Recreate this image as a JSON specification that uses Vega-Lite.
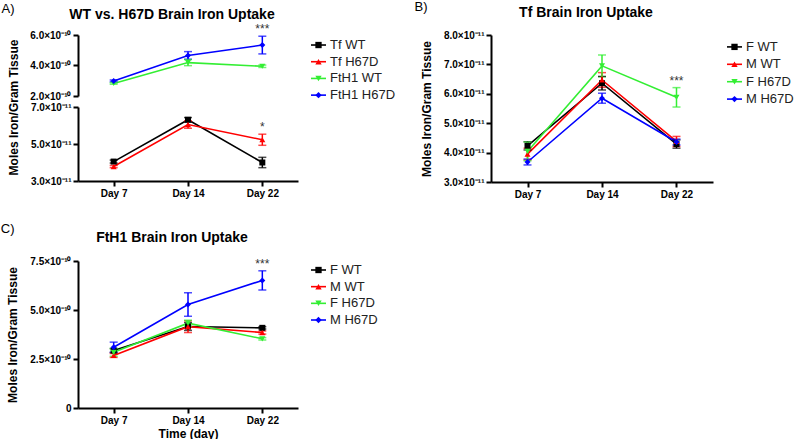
{
  "$schema": "https://vega.github.io/schema/vega-lite/v6.json",
  "padding": {"top": 1, "left": 0, "right": 0, "bottom": 0},
  "background": "white",
  "config": {
    "font": "Liberation Sans",
    "view": {"stroke": null},
    "axis": {"grid": false, "domainColor": "#000", "domainWidth": 2, "tickColor": "#000", "tickWidth": 2, "tickSize": 5, "labelFont": "Liberation Sans", "labelFontSize": 10, "labelFontWeight": "bold", "labelColor": "#000", "labelPadding": 2, "titleFont": "Liberation Sans", "titleFontSize": 12, "titleFontWeight": "bold", "titleColor": "#000"},
    "axisX": {"labelAngle": 0},
    "legend": {"disable": true},
    "title": {"font": "Liberation Sans", "fontSize": 14, "fontWeight": "bold", "color": "#000"},
    "line": {"strokeWidth": 1.6},
    "point": {"filled": true, "size": 36, "opacity": 1}
  },
  "datasets": {
    "A_top": [
      {"series": "FtH1 WT", "day": "Day 7", "value": 2.82e-10, "err": 5e-12},
      {"series": "FtH1 WT", "day": "Day 14", "value": 4.19e-10, "err": 2e-11},
      {"series": "FtH1 WT", "day": "Day 22", "value": 3.95e-10, "err": 8e-12},
      {"series": "FtH1 H67D", "day": "Day 7", "value": 2.99e-10, "err": 6e-12},
      {"series": "FtH1 H67D", "day": "Day 14", "value": 4.66e-10, "err": 2.5e-11},
      {"series": "FtH1 H67D", "day": "Day 22", "value": 5.34e-10, "err": 5.8e-11}
    ],
    "A_top_sig": [{"day": "Day 22", "value": 5.92e-10, "label": "***"}],
    "A_bot": [
      {"series": "Tf WT", "day": "Day 7", "value": 4.05e-11, "err": 8e-13},
      {"series": "Tf WT", "day": "Day 14", "value": 6.31e-11, "err": 1.2e-12},
      {"series": "Tf WT", "day": "Day 22", "value": 4.0e-11, "err": 2.8e-12},
      {"series": "Tf H67D", "day": "Day 7", "value": 3.78e-11, "err": 6e-13},
      {"series": "Tf H67D", "day": "Day 14", "value": 6.05e-11, "err": 2e-12},
      {"series": "Tf H67D", "day": "Day 22", "value": 5.23e-11, "err": 3e-12}
    ],
    "A_bot_sig": [{"day": "Day 22", "value": 5.53e-11, "label": "*"}],
    "A_leg": [{"series": "Tf WT"}, {"series": "Tf H67D"}, {"series": "FtH1 WT"}, {"series": "FtH1 H67D"}],
    "BC_leg": [{"series": "F WT"}, {"series": "M WT"}, {"series": "F H67D"}, {"series": "M H67D"}],
    "B": [
      {"series": "F WT", "day": "Day 7", "value": 4.23e-11, "err": 1.4e-12},
      {"series": "F WT", "day": "Day 14", "value": 6.36e-11, "err": 2.3e-12},
      {"series": "F WT", "day": "Day 22", "value": 4.29e-11, "err": 1.4e-12},
      {"series": "M WT", "day": "Day 7", "value": 3.95e-11, "err": 2e-12},
      {"series": "M WT", "day": "Day 14", "value": 6.47e-11, "err": 2.5e-12},
      {"series": "M WT", "day": "Day 22", "value": 4.38e-11, "err": 1.7e-12},
      {"series": "F H67D", "day": "Day 7", "value": 4.04e-11, "err": 3.2e-12},
      {"series": "F H67D", "day": "Day 14", "value": 6.95e-11, "err": 3.7e-12},
      {"series": "F H67D", "day": "Day 22", "value": 5.88e-11, "err": 3.3e-12},
      {"series": "M H67D", "day": "Day 7", "value": 3.68e-11, "err": 1e-12},
      {"series": "M H67D", "day": "Day 14", "value": 5.85e-11, "err": 1.7e-12},
      {"series": "M H67D", "day": "Day 22", "value": 4.36e-11, "err": 1e-12}
    ],
    "B_sig": [{"day": "Day 22", "value": 6.21e-11, "label": "***"}],
    "C": [
      {"series": "F WT", "day": "Day 7", "value": 2.93e-10, "err": 1e-11},
      {"series": "F WT", "day": "Day 14", "value": 4.16e-10, "err": 2e-11},
      {"series": "F WT", "day": "Day 22", "value": 4.09e-10, "err": 6e-12},
      {"series": "M WT", "day": "Day 7", "value": 2.68e-10, "err": 1e-11},
      {"series": "M WT", "day": "Day 14", "value": 4.15e-10, "err": 3e-11},
      {"series": "M WT", "day": "Day 22", "value": 3.85e-10, "err": 8e-12},
      {"series": "F H67D", "day": "Day 7", "value": 2.84e-10, "err": 2e-11},
      {"series": "F H67D", "day": "Day 14", "value": 4.33e-10, "err": 1.5e-11},
      {"series": "F H67D", "day": "Day 22", "value": 3.53e-10, "err": 6e-12},
      {"series": "M H67D", "day": "Day 7", "value": 3.10e-10, "err": 2.6e-11},
      {"series": "M H67D", "day": "Day 14", "value": 5.28e-10, "err": 6e-11},
      {"series": "M H67D", "day": "Day 22", "value": 6.51e-10, "err": 4.9e-11}
    ],
    "C_sig": [{"day": "Day 22", "value": 7.0e-10, "label": "***"}]
  },
  "resolve": {"scale": {"color": "independent", "shape": "independent"}},
  "spacing": 24,
  "vconcat": [
    {
      "resolve": {"scale": {"color": "independent", "shape": "independent"}},
      "spacing": 18,
      "hconcat": [
        {
          "title": {"text": "A)", "anchor": "start", "frame": "bounds", "fontSize": 13, "fontWeight": "normal", "offset": -8, "dx": -6},
          "columns": 2,
          "bounds": "flush",
          "align": "each",
          "spacing": {"row": 11, "column": 13},
          "concat": [
            {
              "data": {"name": "A_top"},
              "width": 220, "height": 61,
              "title": {"text": "WT vs. H67D Brain Iron Uptake", "anchor": "middle", "frame": "group", "dx": -16, "offset": 1},
              "encoding": {
                "x": {"field": "day", "type": "ordinal", "sort": ["Day 7", "Day 14", "Day 22"], "scale": {"type": "point", "padding": 0.48}, "axis": null},
                "y": {"field": "value", "type": "quantitative", "scale": {"domain": [2e-10, 6e-10], "nice": false, "zero": false}, "axis": {"values": [2e-10, 4e-10, 6e-10], "labelExpr": "format(datum.value*1e10,'.1f')+'×10⁻¹⁰'", "title": null}},
                "color": {"field": "series", "type": "nominal", "scale": {"domain": ["Tf WT", "Tf H67D", "FtH1 WT", "FtH1 H67D"], "range": ["#000000", "#ff0000", "#33ee33", "#0000ff"]}}
              },
              "layer": [
                {"mark": "line"},
                {"mark": {"type": "errorbar", "ticks": true, "size": 8, "thickness": 1.5}, "encoding": {"yError": {"field": "err"}}},
                {"mark": "point", "encoding": {"shape": {"field": "series", "type": "nominal", "scale": {"domain": ["Tf WT", "Tf H67D", "FtH1 WT", "FtH1 H67D"], "range": ["square", "triangle-up", "triangle-down", "diamond"]}}}},
                {"data": {"name": "A_top_sig"}, "mark": {"type": "text", "baseline": "bottom", "fontSize": 12}, "encoding": {"text": {"field": "label"}, "color": {"value": "#333"}}}
              ]
            },
            {
              "data": {"name": "A_leg"},
              "width": 15, "height": 61,
              "encoding": {
                "y": {"field": "series", "type": "nominal", "sort": null, "scale": {"type": "point", "domain": ["Tf WT", "Tf H67D", "FtH1 WT", "FtH1 H67D"], "padding": 0.326, "align": 0.92}, "axis": null},
                "color": {"field": "series", "type": "nominal", "scale": {"domain": ["Tf WT", "Tf H67D", "FtH1 WT", "FtH1 H67D"], "range": ["#000000", "#ff0000", "#33ee33", "#0000ff"]}}
              },
              "layer": [
                {"mark": {"type": "rule", "strokeWidth": 1.6}, "encoding": {"x": {"datum": 0, "type": "quantitative", "scale": {"domain": [0, 1], "nice": false, "zero": false}, "axis": null}, "x2": {"datum": 1}}},
                {"mark": {"type": "point", "filled": true, "size": 40}, "encoding": {"x": {"datum": 0.5, "type": "quantitative"}, "shape": {"field": "series", "type": "nominal", "scale": {"domain": ["Tf WT", "Tf H67D", "FtH1 WT", "FtH1 H67D"], "range": ["square", "triangle-up", "triangle-down", "diamond"]}}}},
                {"mark": {"type": "text", "align": "left", "baseline": "middle", "dx": 4, "fontSize": 13}, "encoding": {"x": {"datum": 1, "type": "quantitative"}, "text": {"field": "series"}, "color": {"value": "#222"}}}
              ]
            },
            {
              "data": {"name": "A_bot"},
              "width": 220, "height": 74,
              "encoding": {
                "x": {"field": "day", "type": "ordinal", "sort": ["Day 7", "Day 14", "Day 22"], "scale": {"type": "point", "padding": 0.48}, "axis": {"title": null}},
                "y": {"field": "value", "type": "quantitative", "scale": {"domain": [3e-11, 7e-11], "nice": false, "zero": false}, "axis": {"values": [3e-11, 5e-11, 7e-11], "labelExpr": "format(datum.value*1e11,'.1f')+'×10⁻¹¹'", "title": "Moles Iron/Gram Tissue", "titleAnchor": "end", "titleAlign": "center", "titlePadding": 10}},
                "color": {"field": "series", "type": "nominal", "scale": {"domain": ["Tf WT", "Tf H67D", "FtH1 WT", "FtH1 H67D"], "range": ["#000000", "#ff0000", "#33ee33", "#0000ff"]}}
              },
              "layer": [
                {"mark": "line"},
                {"mark": {"type": "errorbar", "ticks": true, "size": 8, "thickness": 1.5}, "encoding": {"yError": {"field": "err"}}},
                {"mark": "point", "encoding": {"shape": {"field": "series", "type": "nominal", "scale": {"domain": ["Tf WT", "Tf H67D", "FtH1 WT", "FtH1 H67D"], "range": ["square", "triangle-up", "triangle-down", "diamond"]}}}},
                {"data": {"name": "A_bot_sig"}, "mark": {"type": "text", "baseline": "bottom", "fontSize": 12}, "encoding": {"text": {"field": "label"}, "color": {"value": "#333"}}}
              ]
            }
          ]
        },
        {
          "title": {"text": "B)", "anchor": "start", "frame": "bounds", "fontSize": 13, "fontWeight": "normal", "offset": -8, "dx": -6},
          "bounds": "flush",
          "spacing": 14,
          "hconcat": [
            {
              "data": {"name": "B"},
              "width": 222, "height": 147,
              "title": {"text": "Tf Brain Iron Uptake", "anchor": "middle", "frame": "group", "dx": -16, "offset": 10},
              "encoding": {
                "x": {"field": "day", "type": "ordinal", "sort": ["Day 7", "Day 14", "Day 22"], "scale": {"type": "point", "padding": 0.49}, "axis": {"title": null}},
                "y": {"field": "value", "type": "quantitative", "scale": {"domain": [3e-11, 8e-11], "nice": false, "zero": false}, "axis": {"values": [3e-11, 4e-11, 5e-11, 6e-11, 7e-11, 8e-11], "labelExpr": "format(datum.value*1e11,'.1f')+'×10⁻¹¹'", "title": "Moles Iron/Gram Tissue", "titlePadding": 10}},
                "color": {"field": "series", "type": "nominal", "scale": {"domain": ["F WT", "M WT", "F H67D", "M H67D"], "range": ["#000000", "#ff0000", "#33ee33", "#0000ff"]}}
              },
              "layer": [
                {"mark": "line"},
                {"mark": {"type": "errorbar", "ticks": true, "size": 8, "thickness": 1.5}, "encoding": {"yError": {"field": "err"}}},
                {"mark": "point", "encoding": {"shape": {"field": "series", "type": "nominal", "scale": {"domain": ["F WT", "M WT", "F H67D", "M H67D"], "range": ["square", "triangle-up", "triangle-down", "diamond"]}}}},
                {"data": {"name": "B_sig"}, "mark": {"type": "text", "baseline": "bottom", "fontSize": 12}, "encoding": {"text": {"field": "label"}, "color": {"value": "#333"}}}
              ]
            },
            {
              "data": {"name": "BC_leg"},
              "width": 15, "height": 76,
              "encoding": {
                "y": {"field": "series", "type": "nominal", "sort": null, "scale": {"type": "point", "domain": ["F WT", "M WT", "F H67D", "M H67D"], "padding": 0.684}, "axis": null},
                "color": {"field": "series", "type": "nominal", "scale": {"domain": ["F WT", "M WT", "F H67D", "M H67D"], "range": ["#000000", "#ff0000", "#33ee33", "#0000ff"]}}
              },
              "layer": [
                {"mark": {"type": "rule", "strokeWidth": 1.6}, "encoding": {"x": {"datum": 0, "type": "quantitative", "scale": {"domain": [0, 1], "nice": false, "zero": false}, "axis": null}, "x2": {"datum": 1}}},
                {"mark": {"type": "point", "filled": true, "size": 40}, "encoding": {"x": {"datum": 0.5, "type": "quantitative"}, "shape": {"field": "series", "type": "nominal", "scale": {"domain": ["F WT", "M WT", "F H67D", "M H67D"], "range": ["square", "triangle-up", "triangle-down", "diamond"]}}}},
                {"mark": {"type": "text", "align": "left", "baseline": "middle", "dx": 4, "fontSize": 13}, "encoding": {"x": {"datum": 1, "type": "quantitative"}, "text": {"field": "series"}, "color": {"value": "#222"}}}
              ]
            }
          ]
        }
      ]
    },
    {
      "title": {"text": "C)", "anchor": "start", "frame": "bounds", "fontSize": 13, "fontWeight": "normal", "offset": -5, "dx": -6},
      "bounds": "flush",
      "spacing": 13,
      "hconcat": [
        {
          "data": {"name": "C"},
          "width": 220, "height": 147,
          "title": {"text": "FtH1 Brain Iron Uptake", "anchor": "middle", "frame": "group", "dx": -16, "offset": 11},
          "encoding": {
            "x": {"field": "day", "type": "ordinal", "sort": ["Day 7", "Day 14", "Day 22"], "scale": {"type": "point", "padding": 0.48}, "axis": {"title": "Time (day)", "titlePadding": 3}},
            "y": {"field": "value", "type": "quantitative", "scale": {"domain": [0, 7.5e-10], "nice": false}, "axis": {"values": [0, 2.5e-10, 5e-10, 7.5e-10], "labelExpr": "datum.value==0?'0':format(datum.value*1e10,'.1f')+'×10⁻¹⁰'", "title": "Moles Iron/Gram Tissue", "titlePadding": 10}},
            "color": {"field": "series", "type": "nominal", "scale": {"domain": ["F WT", "M WT", "F H67D", "M H67D"], "range": ["#000000", "#ff0000", "#33ee33", "#0000ff"]}}
          },
          "layer": [
            {"mark": "line"},
            {"mark": {"type": "errorbar", "ticks": true, "size": 8, "thickness": 1.5}, "encoding": {"yError": {"field": "err"}}},
            {"mark": "point", "encoding": {"shape": {"field": "series", "type": "nominal", "scale": {"domain": ["F WT", "M WT", "F H67D", "M H67D"], "range": ["square", "triangle-up", "triangle-down", "diamond"]}}}},
            {"data": {"name": "C_sig"}, "mark": {"type": "text", "baseline": "bottom", "fontSize": 12}, "encoding": {"text": {"field": "label"}, "color": {"value": "#333"}}}
          ]
        },
        {
          "data": {"name": "BC_leg"},
          "width": 15, "height": 68,
          "encoding": {
            "y": {"field": "series", "type": "nominal", "sort": null, "scale": {"type": "point", "domain": ["F WT", "M WT", "F H67D", "M H67D"], "padding": 0.54}, "axis": null},
            "color": {"field": "series", "type": "nominal", "scale": {"domain": ["F WT", "M WT", "F H67D", "M H67D"], "range": ["#000000", "#ff0000", "#33ee33", "#0000ff"]}}
          },
          "layer": [
            {"mark": {"type": "rule", "strokeWidth": 1.6}, "encoding": {"x": {"datum": 0, "type": "quantitative", "scale": {"domain": [0, 1], "nice": false, "zero": false}, "axis": null}, "x2": {"datum": 1}}},
            {"mark": {"type": "point", "filled": true, "size": 40}, "encoding": {"x": {"datum": 0.5, "type": "quantitative"}, "shape": {"field": "series", "type": "nominal", "scale": {"domain": ["F WT", "M WT", "F H67D", "M H67D"], "range": ["square", "triangle-up", "triangle-down", "diamond"]}}}},
            {"mark": {"type": "text", "align": "left", "baseline": "middle", "dx": 4, "fontSize": 13}, "encoding": {"x": {"datum": 1, "type": "quantitative"}, "text": {"field": "series"}, "color": {"value": "#222"}}}
          ]
        }
      ]
    }
  ]
}
